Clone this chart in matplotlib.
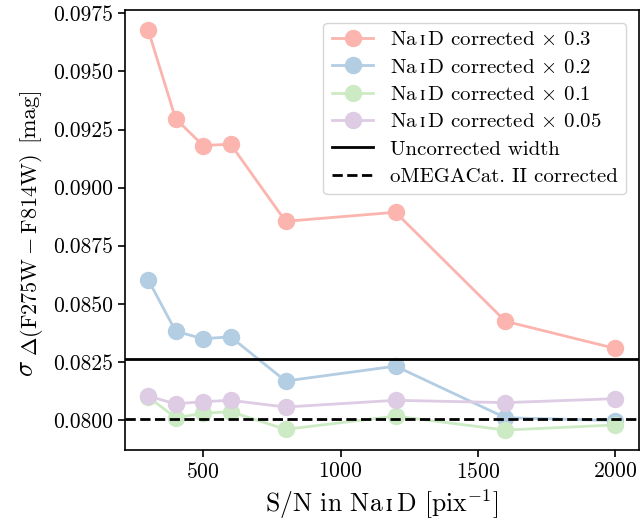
"""
Scatter of colour-spread vs S/N for several Na I D correction factors.
"""

import matplotlib
matplotlib.use("Agg")
import matplotlib.pyplot as plt

# ── Data ────────────────────────────────────────────────────────────────────

snr = [300, 400, 500, 600, 800, 1200, 1600, 2000]

sigma_x030 = [0.09678, 0.09296, 0.09181, 0.09187, 0.08855, 0.08894, 0.08425, 0.08308]
sigma_x020 = [0.08604, 0.08382, 0.08350, 0.08358, 0.08168, 0.08232, 0.08010, 0.07998]
sigma_x010 = [0.08100, 0.08010, 0.08029, 0.08036, 0.07960, 0.08017, 0.07957, 0.07979]
sigma_x005 = [0.08103, 0.08070, 0.08079, 0.08085, 0.08056, 0.08085, 0.08075, 0.08092]

factors = ["0.3", "0.2", "0.1", "0.05"]
uncorrected_width = 0.08261
omegacat_corrected = 0.08003

colours = ["#fbb4ae", "#b3cde3", "#ccebc5", "#decbe4"]

# ── Style ───────────────────────────────────────────────────────────────────

plt.rcParams["font.family"] = ["cmr10", "DejaVu Serif"]
plt.rcParams["mathtext.fontset"] = "cm"
plt.rcParams["axes.formatter.use_mathtext"] = True
plt.rcParams["axes.unicode_minus"] = False

NAID = "Na$\\,\\mathrm{\u026a}\\,$D"   # small-cap I via mathtext fallback

W, H = 640, 527  # figure size in pixels (dpi 100)

# ── Plot ────────────────────────────────────────────────────────────────────

fig, ax = plt.subplots(figsize=(W / 100, H / 100), dpi=100)
fig.subplots_adjust(left=0.195, right=0.998, bottom=0.146, top=0.981)

series = [sigma_x030, sigma_x020, sigma_x010, sigma_x005]
for values, factor, colour in zip(series, factors, colours):
    ax.plot(
        snr, values, "-o", color=colour, lw=2, markersize=11.5,
        label=NAID + f" corrected $\\times$ {factor}",
    )

ax.axhline(uncorrected_width, color="black", lw=2, label="Uncorrected width")
ax.axhline(omegacat_corrected, color="black", lw=2, ls="--",
           label="oMEGACat. II corrected")

ax.set_yticks([0.0800, 0.0825, 0.0850, 0.0875, 0.0900, 0.0925, 0.0950, 0.0975])
ax.set_yticklabels([f"{t:.4f}" for t in ax.get_yticks()])
ax.tick_params(labelsize=15.5, width=1.2, length=5)
for spine in ax.spines.values():
    spine.set_linewidth(1.2)

ax.set_xlabel("S/N in " + NAID + " [pix$^{-1}$]", fontsize=18.5)

# y label built from pieces so the subscript gets LaTeX-like proportions
ylab = dict(rotation=90, rotation_mode="anchor", ha="center", va="baseline")
fig.text(33 / W, 1 - 368 / H, r"$\sigma$", fontsize=19, **ylab)
fig.text(37 / W, 1 - 255 / H, r"$\mathrm{\Delta(F275W-F814W)}$", fontsize=16, **ylab)
fig.text(33 / W, 1 - 114 / H, "[mag]", fontsize=16.5, **ylab)

ax.legend(loc="upper right", fontsize=15, labelspacing=0.42, borderaxespad=0.6)

fig.savefig("out.png", dpi=100)
plt.close(fig)
